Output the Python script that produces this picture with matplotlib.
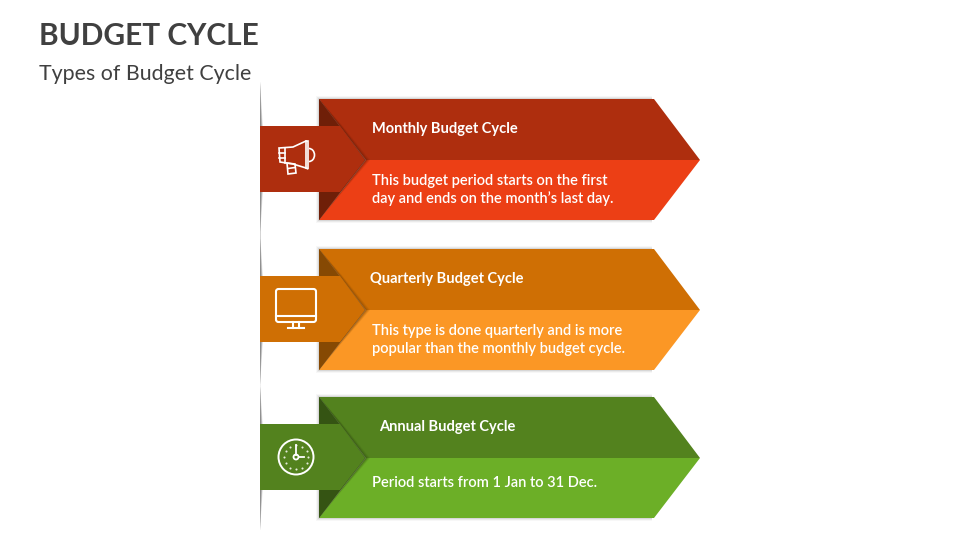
import matplotlib
matplotlib.use("Agg")
import matplotlib.pyplot as plt
from matplotlib.patches import Polygon, Circle, FancyBboxPatch, Arc

plt.rcParams['font.family'] = ['Lato', 'DejaVu Sans']

title = "BUDGET CYCLE"
subtitle = "Types of Budget Cycle"
headings = ["Monthly Budget Cycle", "Quarterly Budget Cycle", "Annual Budget Cycle"]
bodies = ["This budget period starts on the first\nday and ends on the month\u2019s last day.",
          "This type is done quarterly and is more\npopular than the monthly budget cycle.",
          "Period starts from 1 Jan to 31 Dec."]
dark_colors = ["#AE2E0E", "#CF6F04", "#53821E"]
light_colors = ["#EC3F15", "#FB9725", "#6CAF27"]
fold_colors = ["#6F1F08", "#864903", "#355413"]

# layout in pixels
row_tops = [99, 249, 397]
heading_x = [372.5, 370, 379.5]
line_ranges = [(82, 238), (232, 386), (385, 530)]

fig = plt.figure(figsize=(9.6, 5.4), dpi=100)
ax = fig.add_axes([0, 0, 1, 1])
ax.set_xlim(0, 960)
ax.set_ylim(540, 0)
ax.axis("off")


def megaphone(cx, cy):
    lw = 1.2
    ax.add_patch(Arc((cx + 13, cy - 3), 11, 13, theta1=-90, theta2=90, ec="white", lw=lw, zorder=6))
    pts = [(-17, -10), (-3, -11), (10, -17), (12, -17), (12, 11), (10, 10), (-3, 6), (-16, 4)]
    ax.add_patch(Polygon([(cx + a, cy + b) for a, b in pts], fill=False, ec="white", lw=lw, zorder=6))
    ax.plot([cx + 10, cx + 10], [cy - 17, cy + 10], color="white", lw=lw, zorder=6)
    ax.plot([cx - 11, cx - 11], [cy - 10, cy + 5], color="white", lw=lw, zorder=6)
    ax.plot([cx - 17, cx - 11], [cy - 5, cy - 5], color="white", lw=lw, zorder=6)
    ax.plot([cx - 17, cx - 11], [cy, cy], color="white", lw=lw, zorder=6)
    ax.add_patch(Polygon([(cx - 9, cy + 5), (cx - 1, cy + 6), (cx, cy + 15), (cx - 8, cy + 16)], fill=False, ec="white", lw=lw, zorder=6))
    ax.plot([cx - 8, cx - 1], [cy + 10.5, cy + 9.5], color="white", lw=lw, zorder=6)


def monitor(cx, cy):
    lw = 1.5
    ax.add_patch(FancyBboxPatch((cx - 20, cy - 20), 40, 33, boxstyle="round,pad=0,rounding_size=2.5", fill=False, ec="white", lw=lw, zorder=6))
    ax.plot([cx - 20, cx + 20], [cy + 7, cy + 7], color="white", lw=lw, zorder=6)
    ax.plot([cx - 3, cx - 3], [cy + 13, cy + 19], color="white", lw=lw, zorder=6)
    ax.plot([cx + 3, cx + 3], [cy + 13, cy + 19], color="white", lw=lw, zorder=6)
    ax.plot([cx - 8, cx + 8], [cy + 19, cy + 19], color="white", lw=lw, zorder=6)


def clock(cx, cy):
    ax.add_patch(Circle((cx, cy), 17.5, fill=False, ec="white", lw=1.4, zorder=6))
    for a, b in [(0, -12), (6, -10.5), (10.5, -6), (12, 0), (10.5, 6), (6, 10.5), (0, 12), (-6, 10.5), (-10.5, 6), (-12, 0), (-10.5, -6), (-6, -10.5)]:
        ax.plot(cx + a, cy + b, "o", color="white", ms=1.5, mew=0, alpha=0.85, zorder=6)
    ax.plot([cx, cx], [cy - 12, cy - 2.5], color="white", lw=1.3, zorder=6)
    ax.plot([cx + 2.5, cx + 8], [cy, cy], color="white", lw=1.3, zorder=6)
    ax.add_patch(Circle((cx, cy), 2.5, fill=False, ec="white", lw=1.3, zorder=6))


icons = [megaphone, monitor, clock]

# thin grey lens shaped dividers on the left
for (y0, y1), top in zip(line_ranges, row_tops):
    ym = top + 60
    for w, al in [(5, 0.18), (4, 0.25), (3, 0.3), (2, 0.35), (1, 0.45)]:
        ax.add_patch(Polygon([(260, y0), (260 + w, ym), (260, y1)], fc="#6E6E6E", alpha=al, ec="none", zorder=1))

for i, top in enumerate(row_tops):
    mid = top + 61
    bot = top + 121
    tab_top = top + 27
    tab_bot = top + 93

    # soft shadow along the straight edges, not the point
    for k, al in [(3, 0.03), (2, 0.05), (1, 0.08)]:
        ax.add_patch(Polygon([(319 - k, top - k), (652, top - k), (652, bot + k), (319 - k, bot + k)],
                             fc="black", alpha=al, ec="none", zorder=1))

    ax.add_patch(Polygon([(319, top), (654, top), (700, mid), (366, mid)], fc=dark_colors[i], ec="none", zorder=2))
    ax.add_patch(Polygon([(366, mid), (700, mid), (654, bot), (319, bot)], fc=light_colors[i], ec="none", zorder=2))

    # soft shadow cast by the tab point, darkest next to the edge
    for k, al in [(5, 0.12), (4, 0.16), (3, 0.22), (2, 0.3), (1, 0.4)]:
        ax.add_patch(Polygon([(319, top), (340 + k * 0.5, tab_top), (365 + k, mid), (340 + k * 0.5, tab_bot), (319, bot)],
                             fc=fold_colors[i], alpha=al, ec="none", zorder=2.5))

    # folded corners behind the tab
    ax.add_patch(Polygon([(319, top), (365, mid), (319, bot)], fc=fold_colors[i], ec="none", zorder=3))

    # tab with arrow point
    ax.add_patch(Polygon([(260, tab_top), (340, tab_top), (365, mid), (340, tab_bot), (260, tab_bot)],
                         fc=dark_colors[i], ec="none", zorder=4))

    icons[i](296, mid - 1 if i else mid - 2)

    ax.text(heading_x[i], top + 30, headings[i], color="white", fontsize=10.5, fontweight="bold", va="center", ha="left", zorder=7)
    ax.text(372.5, top + 91 if i < 2 else top + 86, bodies[i], color="white", fontsize=10.5, fontweight="semibold",
            va="center", ha="left", linespacing=1.32, zorder=7)

ax.text(39, 36, title, color="#404040", fontsize=21.5, fontweight="bold", va="center", ha="left")
ax.text(39, 74.5, subtitle, color="#404040", fontsize=15.4, va="center", ha="left")

fig.savefig("out.png", dpi=100)
